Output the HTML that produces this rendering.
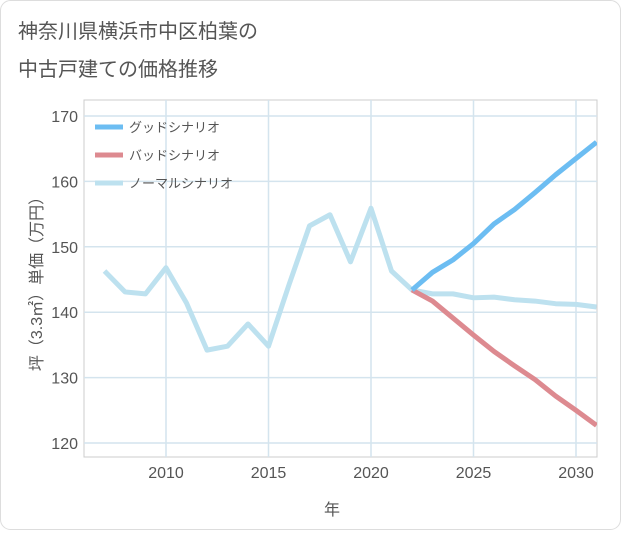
<!DOCTYPE html>
<html><head><meta charset="utf-8"><style>
body{margin:0;background:#fff;}
.wrap{position:relative;width:621px;height:530px;font-family:"Liberation Sans","Noto Sans CJK JP",sans-serif;}
</style></head><body>
<div class="wrap">
<svg id="chart" width="621" height="530">
<rect x="0.5" y="0.5" width="620" height="529" rx="10" fill="#fff" stroke="#ddd"/>
<text x="18" y="38" font-size="20" fill="#555">神奈川県横浜市中区柏葉の</text>
<text x="18" y="76" font-size="20" fill="#555">中古戸建ての価格推移</text>
<text x="332" y="515" font-size="16" fill="#555" text-anchor="middle">年</text>
<text transform="translate(42,280) rotate(-90)" font-size="16" fill="#555" text-anchor="middle">坪（3.3㎡）単価（万円）</text>
<g id="grid"></g><g id="series"></g><g id="legend"></g>
</svg>
</div>
<script>
const years=[2007,2008,2009,2010,2011,2012,2013,2014,2015,2016,2017,2018,2019,2020,2021,2022,2023,2024,2025,2026,2027,2028,2029,2030,2031];
const normalValues=[146.3,143.1,142.8,146.8,141.4,134.2,134.8,138.2,134.8,144.2,153.2,154.9,147.7,155.9,146.3,143.4,142.8,142.8,142.2,142.3,141.9,141.7,141.3,141.2,140.8];
const forecastYears=[2022,2023,2024,2025,2026,2027,2028,2029,2030,2031];
const goodValues=[143.4,146.1,148,150.5,153.5,155.7,158.3,161,163.5,166];
const badValues=[143.4,141.7,139.1,136.5,134,131.8,129.7,127.2,125,122.7];
const xTicks=[2010,2015,2020,2025,2030];
const yTicks=[120,130,140,150,160,170];
const legendLabels=["グッドシナリオ","バッドシナリオ","ノーマルシナリオ"];
const NS="http://www.w3.org/2000/svg";
const L=84,R=597,T=100,B=457;
const x=v=>166+(v-2010)*20.5;
const y=v=>443-(v-120)*6.54;
function mk(tag,attrs,parent){const e=document.createElementNS(NS,tag);for(const k in attrs)e.setAttribute(k,attrs[k]);parent.appendChild(e);return e;}
const grid=document.getElementById('grid');
const ser=document.getElementById('series');
const leg=document.getElementById('legend');
const frame=mk('rect',{x:L,y:T,width:R-L,height:B-T,fill:'none',stroke:'#ccc'},grid);


yTicks.forEach(t=>{
 const l=mk('line',{x1:L,x2:R,y1:y(t),y2:y(t),stroke:'#d4e4ee','stroke-width':1.5},grid);
 
 
 const tx=mk('text',{x:78,y:y(t)+6,'font-size':16,fill:'#555','text-anchor':'end'},grid);
 tx.textContent=t;
 
 
});
xTicks.forEach(t=>{
 const l=mk('line',{x1:x(t),x2:x(t),y1:T,y2:B,stroke:'#d4e4ee','stroke-width':1.5},grid);
 
 
 const tx=mk('text',{x:x(t),y:478,'font-size':16,fill:'#555','text-anchor':'middle'},grid);
 tx.textContent=t;
 
 
});
const cp=mk('clipPath',{id:'clip'},ser);
mk('rect',{x:L,y:T,width:R-L,height:B-T},cp);
function line(xs,vs,color,name){
 const p=mk('polyline',{points:xs.map((v,i)=>x(v)+','+y(vs[i])).join(' '),fill:'none',stroke:color,'stroke-width':5,'stroke-linejoin':'round','clip-path':'url(#clip)'},ser);
 
 
}
line(years,normalValues,'#bde1ef','normal-scenario-line');
line(forecastYears,badValues,'#dd8a90','bad-scenario-line');
line(forecastYears,goodValues,'#6cbdf2','good-scenario-line');
const cols=['#6cbdf2','#dd8a90','#bde1ef'];
legendLabels.forEach((lb,i)=>{
 const yy=127+i*28;
 const g=mk('g',{},leg);
 
 
 mk('line',{x1:95,x2:123,y1:yy,y2:yy,stroke:cols[i],'stroke-width':5},g);
 const t=mk('text',{x:129,y:yy+5,'font-size':13,fill:'#555'},g);
 t.textContent=lb;
});
</script>
</body></html>
